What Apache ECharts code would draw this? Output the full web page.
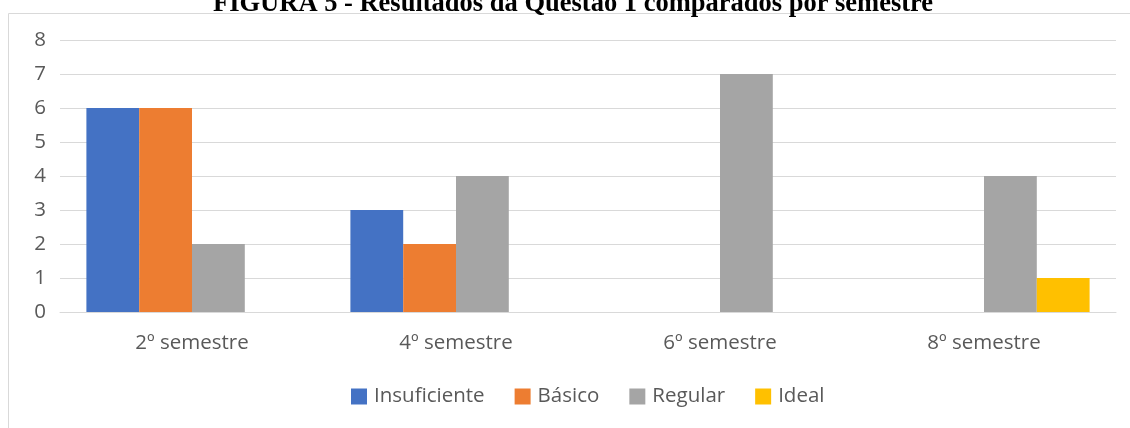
<!DOCTYPE html>
<html><head><meta charset="utf-8">
<script src="https://cdn.jsdelivr.net/npm/echarts@6/dist/echarts.min.js"></script>
<style>html,body{margin:0;padding:0;background:#fff}#c{width:1130px;height:428px}</style>
</head><body><div id="c"></div>
<script>
const categories = ['2º semestre', '4º semestre', '6º semestre', '8º semestre'];
const insuficiente = [6, 3, 0, 0];
const basico = [6, 2, 0, 0];
const regular = [2, 4, 7, 4];
const ideal = [0, 0, 0, 1];
const yTicks = [0, 1, 2, 3, 4, 5, 6, 7, 8];

const chart = echarts.init(document.getElementById('c'), null, {renderer: 'canvas'});
const font = '"Open Sans", "Noto Sans", sans-serif';
function s(name, data, color) {
  return {name, type: 'bar', data, barGap: '0%', barCategoryGap: '20%',
    itemStyle: {color}, emphasis: {disabled: true}};
}
chart.setOption({
  animation: false,
  graphic: [{type: 'rect', shape: {x: 8.5, y: 13.5, width: 1140, height: 430},
    style: {fill: 'none', stroke: '#d9d9d9', lineWidth: 1}, z: -1}],
  title: {text: 'FIGURA 5 - Resultados da Questão 1 comparados por semestre', left: 208, top: -14,
    textStyle: {fontFamily: '"Liberation Serif", "Times New Roman", serif', fontWeight: 'bold', fontSize: 26.5, color: '#000'}},
  grid: {left: 60, right: 14, top: 40, bottom: 116, containLabel: false},
  legend: {bottom: 16, left: 346, itemWidth: 16, itemHeight: 16, itemGap: 30, icon: 'rect',
    textStyle: {fontFamily: font, fontSize: 20.5, color: '#595959', padding: [0, 0, 0, 2]}},
  xAxis: {type: 'category', data: categories,
    axisLine: {lineStyle: {color: '#d9d9d9', width: 1}}, axisTick: {show: false},
    axisLabel: {fontFamily: font, fontSize: 20.5, color: '#595959', margin: 21}},
  yAxis: {type: 'value', min: yTicks[0], max: yTicks[yTicks.length - 1], interval: 1,
    axisLine: {show: false}, axisTick: {show: false},
    splitLine: {lineStyle: {color: '#d9d9d9', width: 1}},
    axisLabel: {fontFamily: font, fontSize: 20.5, color: '#595959', margin: 14}},
  series: [
    s('Insuficiente', insuficiente, '#4472c4'),
    s('Básico', basico, '#ed7d31'),
    s('Regular', regular, '#a5a5a5'),
    s('Ideal', ideal, '#ffc000')
  ]
});
</script></body></html>
